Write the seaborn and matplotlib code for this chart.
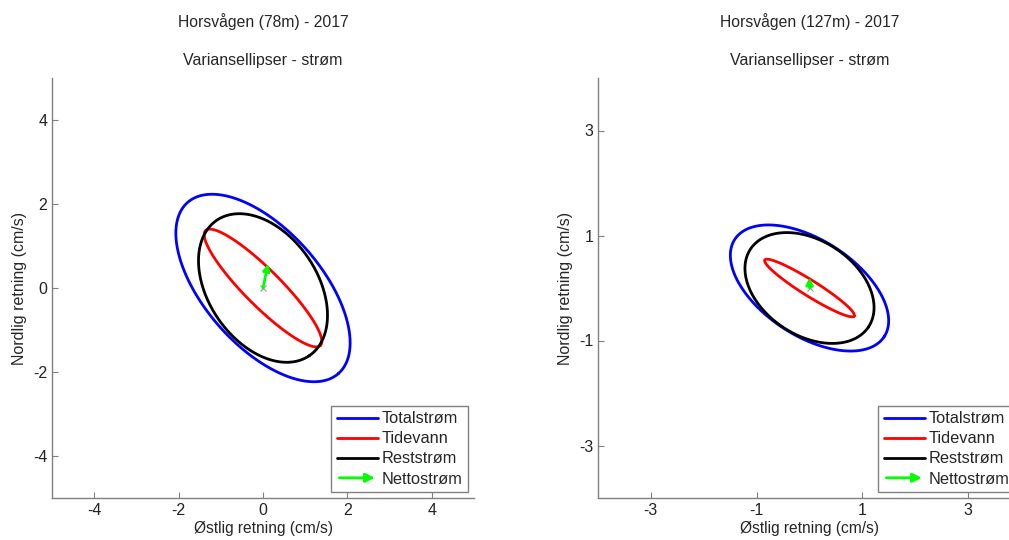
import numpy as np
import pandas as pd
import matplotlib
matplotlib.use("Agg")
import matplotlib.pyplot as plt
import seaborn as sns
from matplotlib.legend_handler import HandlerBase
from matplotlib.patches import FancyArrowPatch
from matplotlib.lines import Line2D

# ---- data ----
titles = ["Horsvågen (78m) - 2017", "Horsvågen (127m) - 2017"]
subtitle = "Variansellipser - strøm"
series = ["Totalstrøm", "Tidevann", "Reststrøm"]
# ellipse parameters per panel: semi-major, semi-minor, angle of major axis (deg)
semi_major_78 = [2.71, 1.93, 1.95]
semi_minor_78 = [1.38, 0.43, 1.29]
angle_78 = [-48.8, -45.2, -55.9]
semi_major_127 = [1.69, 1.00, 1.34]
semi_minor_127 = [0.91, 0.15, 0.90]
angle_127 = [-33.4, -32.3, -33.8]
# net current (east, north) cm/s
netto_78 = [0.12, 0.58]
netto_127 = [0.0, 0.20]
ticks_78 = [-4, -2, 0, 2, 4]
ticks_127 = [-3, -1, 1, 3]
lims = [5, 4]

colors = ["#0000ff", "#ff0000", "#000000"]
green = "#00ff00"

sns.set_style("ticks")
plt.rcParams['font.family'] = ['Liberation Sans', 'DejaVu Sans']
plt.rcParams['axes.unicode_minus'] = False

fig = plt.figure(figsize=(10.09, 5.4), dpi=100)
ax1 = fig.add_axes([52/1009, 1-498/540, 422/1009, 420/540])
ax2 = fig.add_axes([598/1009, 1-498/540, 423/1009, 420/540])

t = np.linspace(0, 2*np.pi, 361)

class HandlerArrow(HandlerBase):
    def create_artists(self, legend, orig_handle, xdescent, ydescent,
                       width, height, fontsize, trans):
        y = height/2 - ydescent
        arr = FancyArrowPatch((-xdescent, y), (width - xdescent, y),
                              arrowstyle='-|>', mutation_scale=13,
                              color=green, lw=2, transform=trans)
        return [arr]

panels = [
    (ax1, semi_major_78, semi_minor_78, angle_78, netto_78, ticks_78, lims[0], titles[0]),
    (ax2, semi_major_127, semi_minor_127, angle_127, netto_127, ticks_127, lims[1], titles[1]),
]

for ax, amaj, amin, ang, net, ticks, lim, title in panels:
    for name, a, b, th, c in zip(series, amaj, amin, ang, colors):
        r = np.deg2rad(th)
        x = a*np.cos(t)*np.cos(r) - b*np.sin(t)*np.sin(r)
        y = a*np.cos(t)*np.sin(r) + b*np.sin(t)*np.cos(r)
        df = pd.DataFrame({"x": x, "y": y})
        sns.lineplot(data=df, x="x", y="y", sort=False, estimator=None,
                     color=c, lw=2, ax=ax, label=name)
    ax.plot([0], [0], marker='x', color='#999999', ms=4, mew=0.8)
    ax.annotate("", xy=(net[0], net[1]), xytext=(0, 0),
                arrowprops=dict(arrowstyle='-|>', color=green, lw=2,
                                mutation_scale=10, shrinkA=0, shrinkB=0))
    ax.set_xlim(-lim, lim)
    ax.set_ylim(-lim, lim)
    ax.set_xticks(ticks)
    ax.set_yticks(ticks)
    ax.set_xlabel("Østlig retning (cm/s)", fontsize=11.2, labelpad=2)
    ax.set_ylabel("Nordlig retning (cm/s)", fontsize=11.5, labelpad=4)
    ax.set_title(subtitle, fontsize=11.5, pad=9)
    ax.text(0.5, 1.135, title, transform=ax.transAxes, ha='center',
            va='center', fontsize=11.3)
    ax.tick_params(direction='in', length=4, labelsize=11.5, width=0.8,
                   colors='#808080', labelcolor='#222222')
    for s in ['top', 'right']:
        ax.spines[s].set_visible(False)
    for s in ['left', 'bottom']:
        ax.spines[s].set_color('#808080')
        ax.spines[s].set_linewidth(1)
    handles, labels = ax.get_legend_handles_labels()
    arrow_handle = Line2D([], [], color=green)
    handles = handles[:3] + [arrow_handle]
    labels = labels[:3] + ["Nettostrøm"]
    leg = ax.legend(handles, labels, loc='lower right',
                    bbox_to_anchor=(0.986, 0.014), borderaxespad=0,
                    fontsize=11.8, handlelength=2.5, handletextpad=0.25,
                    labelspacing=0.31, borderpad=0.34, fancybox=False,
                    framealpha=1, edgecolor='#808080',
                    handler_map={arrow_handle: HandlerArrow()})
    leg.get_frame().set_linewidth(1)

fig.savefig("out.png", dpi=100)
